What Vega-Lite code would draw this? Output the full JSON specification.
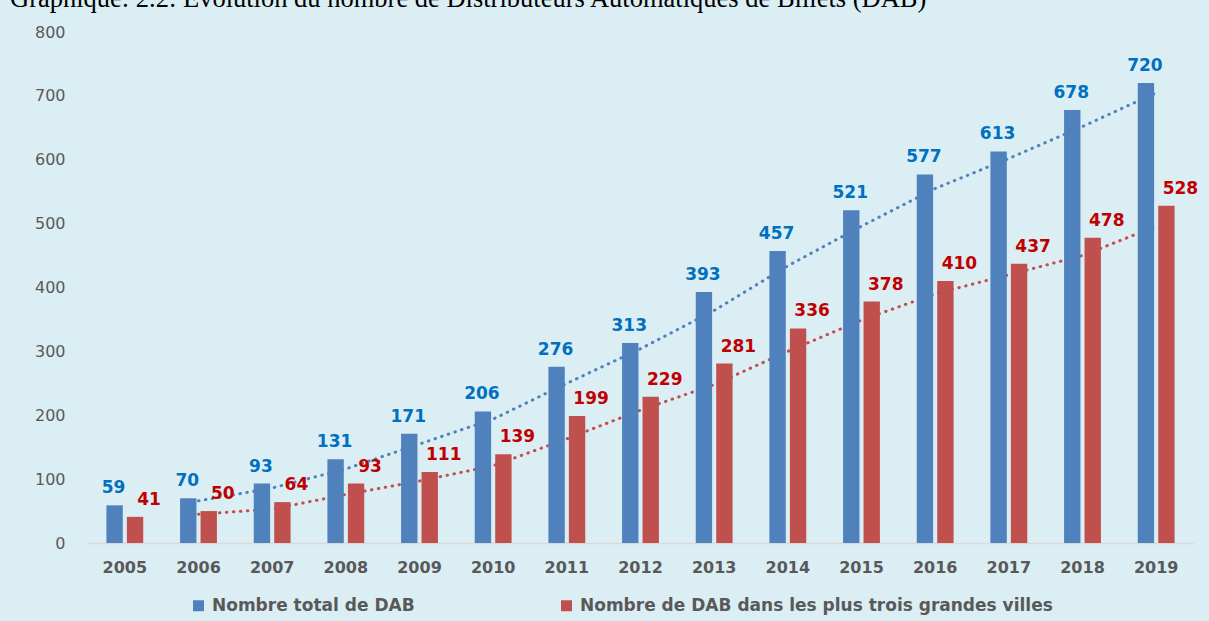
{
  "$schema": "https://vega.github.io/schema/vega-lite/v6.json",
  "width": 1105,
  "height": 511,
  "autosize": {"type": "none"},
  "padding": {"left": 88, "top": 32, "right": 16, "bottom": 78},
  "background": "#DBEEF4",
  "title": {
    "text": "Graphique: 2.2: Évolution du nombre de Distributeurs Automatiques de Billets (DAB)",
    "anchor": "start",
    "frame": "group",
    "dx": -78,
    "offset": -9,
    "baseline": "alphabetic",
    "font": "Liberation Serif",
    "fontSize": 26.5,
    "fontWeight": "normal",
    "color": "#000000"
  },
  "config": {"view": {"stroke": null}, "axis": {"grid": false}},
  "data": {
    "values": [
      {"year": "2005", "serie": "Nombre total de DAB", "value": 59, "trend": null},
      {"year": "2006", "serie": "Nombre total de DAB", "value": 70, "trend": 66},
      {"year": "2007", "serie": "Nombre total de DAB", "value": 93, "trend": 86},
      {"year": "2008", "serie": "Nombre total de DAB", "value": 131, "trend": 116},
      {"year": "2009", "serie": "Nombre total de DAB", "value": 171, "trend": 155},
      {"year": "2010", "serie": "Nombre total de DAB", "value": 206, "trend": 194},
      {"year": "2011", "serie": "Nombre total de DAB", "value": 276, "trend": 250},
      {"year": "2012", "serie": "Nombre total de DAB", "value": 313, "trend": 304},
      {"year": "2013", "serie": "Nombre total de DAB", "value": 393, "trend": 364},
      {"year": "2014", "serie": "Nombre total de DAB", "value": 457, "trend": 434},
      {"year": "2015", "serie": "Nombre total de DAB", "value": 521, "trend": 496},
      {"year": "2016", "serie": "Nombre total de DAB", "value": 577, "trend": 555},
      {"year": "2017", "serie": "Nombre total de DAB", "value": 613, "trend": 602},
      {"year": "2018", "serie": "Nombre total de DAB", "value": 678, "trend": 652},
      {"year": "2019", "serie": "Nombre total de DAB", "value": 720, "trend": 705},
      {"year": "2005", "serie": "Nombre de DAB dans les plus trois grandes villes", "value": 41, "trend": null},
      {"year": "2006", "serie": "Nombre de DAB dans les plus trois grandes villes", "value": 50, "trend": 45},
      {"year": "2007", "serie": "Nombre de DAB dans les plus trois grandes villes", "value": 64, "trend": 53},
      {"year": "2008", "serie": "Nombre de DAB dans les plus trois grandes villes", "value": 93, "trend": 76},
      {"year": "2009", "serie": "Nombre de DAB dans les plus trois grandes villes", "value": 111, "trend": 97},
      {"year": "2010", "serie": "Nombre de DAB dans les plus trois grandes villes", "value": 139, "trend": 121},
      {"year": "2011", "serie": "Nombre de DAB dans les plus trois grandes villes", "value": 199, "trend": 163},
      {"year": "2012", "serie": "Nombre de DAB dans les plus trois grandes villes", "value": 229, "trend": 208},
      {"year": "2013", "serie": "Nombre de DAB dans les plus trois grandes villes", "value": 281, "trend": 248},
      {"year": "2014", "serie": "Nombre de DAB dans les plus trois grandes villes", "value": 336, "trend": 300},
      {"year": "2015", "serie": "Nombre de DAB dans les plus trois grandes villes", "value": 378, "trend": 349},
      {"year": "2016", "serie": "Nombre de DAB dans les plus trois grandes villes", "value": 410, "trend": 390},
      {"year": "2017", "serie": "Nombre de DAB dans les plus trois grandes villes", "value": 437, "trend": 420},
      {"year": "2018", "serie": "Nombre de DAB dans les plus trois grandes villes", "value": 478, "trend": 450},
      {"year": "2019", "serie": "Nombre de DAB dans les plus trois grandes villes", "value": 528, "trend": 496}
    ]
  },
  "encoding": {
    "x": {
      "field": "year",
      "type": "ordinal",
      "scale": {"paddingInner": 0.5, "paddingOuter": 0.25},
      "axis": {
        "title": null,
        "labelAngle": 0,
        "ticks": false,
        "tickSize": 0,
        "domainColor": "#D9D9D9",
        "domainWidth": 1.5,
        "labelFont": "DejaVu Sans",
        "labelFontSize": 16,
        "labelFontWeight": "bold",
        "labelColor": "#595959",
        "labelPadding": 16,
        "labelBaseline": "top"
      }
    }
  },
  "layer": [
    {
      "transform": [{"filter": "datum.trend != null && datum.serie == 'Nombre total de DAB'"}],
      "mark": {"type": "line", "color": "#4F81BD", "strokeWidth": 3, "strokeDash": [0.5, 6.5], "strokeCap": "round"},
      "encoding": {
        "y": {"field": "trend", "type": "quantitative"}
      }
    },
    {
      "transform": [{"filter": "datum.trend != null && datum.serie != 'Nombre total de DAB'"}],
      "mark": {"type": "line", "color": "#C0504D", "strokeWidth": 3, "strokeDash": [0.5, 6.5], "strokeCap": "round"},
      "encoding": {
        "y": {"field": "trend", "type": "quantitative"}
      }
    },
    {
      "mark": {"type": "bar"},
      "encoding": {
        "xOffset": {
          "field": "serie",
          "type": "nominal",
          "scale": {"domain": ["Nombre total de DAB", "Nombre de DAB dans les plus trois grandes villes"], "paddingInner": 0.2, "paddingOuter": 0}
        },
        "y": {
          "field": "value",
          "type": "quantitative",
          "scale": {"domain": [0, 800], "nice": false},
          "axis": {
            "title": null,
            "domain": false,
            "ticks": false,
            "tickSize": 0,
            "grid": false,
            "values": [0, 100, 200, 300, 400, 500, 600, 700, 800],
            "labelFont": "DejaVu Sans",
            "labelFontSize": 16,
            "labelColor": "#595959",
            "labelPadding": 23
          }
        },
        "color": {
          "field": "serie",
          "type": "nominal",
          "scale": {"domain": ["Nombre total de DAB", "Nombre de DAB dans les plus trois grandes villes"], "range": ["#4F81BD", "#C0504D"]},
          "legend": {
            "orient": "none",
            "legendX": 102,
            "legendY": 565,
            "direction": "horizontal",
            "title": null,
            "symbolType": "square",
            "symbolSize": 121,
            "symbolStrokeWidth": 0,
            "labelFont": "DejaVu Sans",
            "labelFontSize": 17,
            "labelFontWeight": "bold",
            "labelColor": "#595959",
            "labelLimit": 700,
            "labelOffset": 5,
            "columnPadding": 143
          }
        }
      }
    },
    {
      "transform": [{"filter": "datum.serie == 'Nombre total de DAB'"}],
      "mark": {"type": "text", "baseline": "alphabetic", "dy": -12, "dx": -1, "font": "DejaVu Sans", "fontSize": 17, "fontWeight": "bold", "color": "#0070C0"},
      "encoding": {
        "xOffset": {"field": "serie", "type": "nominal"},
        "y": {"field": "value", "type": "quantitative"},
        "text": {"field": "value", "type": "quantitative"}
      }
    },
    {
      "transform": [{"filter": "datum.serie != 'Nombre total de DAB'"}],
      "mark": {"type": "text", "baseline": "alphabetic", "dy": -12, "dx": 14, "font": "DejaVu Sans", "fontSize": 17, "fontWeight": "bold", "color": "#C00000"},
      "encoding": {
        "xOffset": {"field": "serie", "type": "nominal"},
        "y": {"field": "value", "type": "quantitative"},
        "text": {"field": "value", "type": "quantitative"}
      }
    }
  ]
}
